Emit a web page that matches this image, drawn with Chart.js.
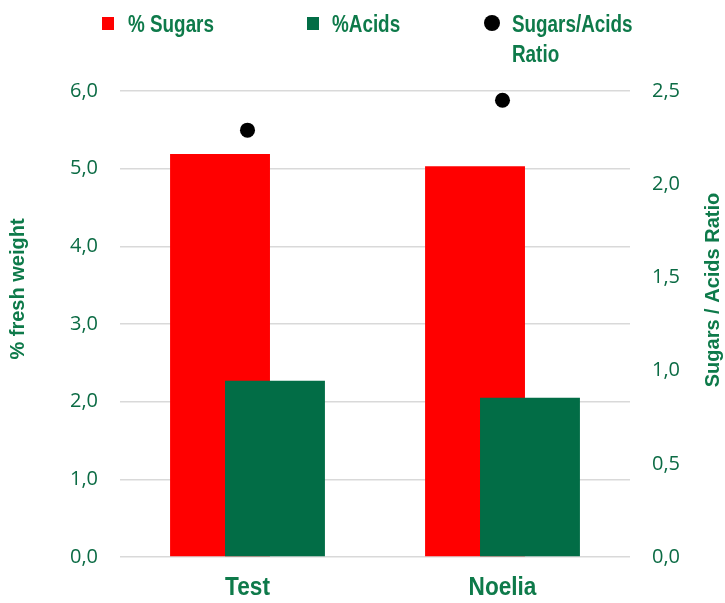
<!DOCTYPE html>
<html>
<head>
<meta charset="utf-8">
<script src="https://cdn.jsdelivr.net/npm/chart.js@4.4.1/dist/chart.umd.min.js"></script>
<style>
  body { margin: 0; background: #fff; }
  #wrap { position: relative; width: 725px; height: 603px; }
  #legend { position: absolute; left: 0; top: 0; width: 725px; height: 80px;
            font-family: "Liberation Sans", sans-serif;
            font-weight: bold; font-size: 23px; color: #0E7A4A; }
  .item { position: absolute; top: 9px; display: flex; align-items: flex-start; }
  .mark { width: 12px; height: 13px; margin-top: 8px; margin-right: 14px; }
  .txt { line-height: 30px; transform: scaleX(0.82); transform-origin: left top; white-space: pre; }
</style>
</head>
<body>
<div id="wrap">
  <canvas id="chart"></canvas>
  <div id="legend"></div>
</div>
<script>
const categories = ["Test", "Noelia"];
const seriesNames = ["% Sugars", "%Acids", "Sugars/Acids Ratio"];
const sugars = [5.19, 5.03];
const acids = [2.27, 2.05];
const ratio = [2.29, 2.45];
const leftTicks = [0, 1, 2, 3, 4, 5, 6];
const rightTicks = [0, 0.5, 1, 1.5, 2, 2.5];

const GREEN = "#026D46";
const TEXT = "#0E7A4A";
const TICK = "#0B6B44";
const BOLD = "'Liberation Sans', sans-serif";

// legend built as html
const legend = document.getElementById("legend");
const legendX = [102, 307, 484];
const markers = [
    { bg: "#FF0000", w: 12, h: 13, r: 0, gap: 14 },
    { bg: GREEN, w: 12, h: 13, r: 0, gap: 13 },
    { bg: "#000", w: 16, h: 16, r: 8, gap: 12 }
];
seriesNames.forEach((name, i) => {
    const it = document.createElement("div");
    it.className = "item";
    it.style.left = legendX[i] + "px";
    const m = document.createElement("div");
    m.className = "mark";
    m.style.background = markers[i].bg;
    m.style.width = markers[i].w + "px";
    m.style.height = markers[i].h + "px";
    m.style.borderRadius = markers[i].r + "px";
    m.style.marginRight = markers[i].gap + "px";
    if (i === 2) m.style.marginTop = "6px";
    const t = document.createElement("div");
    t.className = "txt";
    // last name wraps onto two lines like the original
    t.textContent = i === 2 ? name.replace(" ", "\n") : name;
    it.appendChild(m);
    it.appendChild(t);
    legend.appendChild(it);
});

const fmt = v => Number(v).toFixed(1).replace(".", ",");

// acids bars are drawn over the sugars bars
const overlap = {
    id: "overlap",
    beforeDatasetDraw(chart, args) {
        if (args.index === 1) return false;
    },
    afterDatasetDraw(chart, args) {
        if (args.index === 0) chart.getDatasetMeta(1).controller.draw();
    }
};

// narrow bold text: titles and category labels
const texts = {
    id: "texts",
    afterDraw(chart) {
        const ctx = chart.ctx;
        const put = (str, x, y, rot, size, sx) => {
            ctx.save();
            ctx.fillStyle = TEXT;
            ctx.font = "bold " + size + "px " + BOLD;
            ctx.textAlign = "center";
            ctx.textBaseline = "middle";
            ctx.translate(x, y);
            ctx.rotate(rot);
            ctx.scale(sx, 1);
            ctx.fillText(str, 0, 0);
            ctx.restore();
        };
        put("% fresh weight", 18, 289, -Math.PI / 2, 20, 1);
        put("Sugars / Acids Ratio", 713, 290, -Math.PI / 2, 20, 1);
        const xs = chart.scales.x;
        categories.forEach((c, i) => {
            put(c, xs.getPixelForTick(i), 588, 0, 26, 0.87);
        });
    }
};

new Chart(document.getElementById("chart"), {
    type: "bar",
    data: {
        labels: categories,
        datasets: [
            {
                label: seriesNames[0],
                data: sugars,
                backgroundColor: "#FF0000",
                yAxisID: "y",
                categoryPercentage: 0.431,
                barPercentage: 1.818
            },
            {
                label: seriesNames[1],
                data: acids,
                backgroundColor: GREEN,
                yAxisID: "y",
                categoryPercentage: 0.431,
                barPercentage: 1.818
            },
            {
                type: "line",
                label: seriesNames[2],
                data: ratio,
                yAxisID: "y2",
                showLine: false,
                pointRadius: 7.5,
                pointBackgroundColor: "#000",
                pointBorderWidth: 0,
                order: -1
            }
        ]
    },
    options: {
        responsive: true,
        maintainAspectRatio: false,
        animation: false,
        layout: { padding: { top: 91, left: 0, right: 0, bottom: 0 } },
        plugins: { legend: { display: false }, tooltip: { enabled: false } },
        scales: {
            x: {
                grid: { display: false },
                border: { display: false },
                afterFit: s => { s.height = 46; },
                ticks: { display: false }
            },
            y: {
                position: "left",
                min: 0,
                max: 6,
                afterFit: s => { s.width = 120; },
                afterBuildTicks: s => { s.ticks = leftTicks.map(v => ({ value: v })); },
                grid: { color: "#D9D9D9", lineWidth: 1.5, drawTicks: false },
                border: { display: false },
                ticks: {
                    color: TICK,
                    padding: 22,
                    callback: fmt,
                    font: { family: "'Open Sans', sans-serif", size: 20 }
                }
            },
            y2: {
                position: "right",
                min: 0,
                max: 2.5,
                afterFit: s => { s.width = 95; },
                afterBuildTicks: s => { s.ticks = rightTicks.map(v => ({ value: v })); },
                grid: { drawOnChartArea: false, drawTicks: false },
                border: { display: false },
                ticks: {
                    color: TICK,
                    padding: 22,
                    callback: fmt,
                    font: { family: "'Open Sans', sans-serif", size: 20 }
                }
            }
        }
    },
    plugins: [overlap, texts]
});
</script>
</body>
</html>
